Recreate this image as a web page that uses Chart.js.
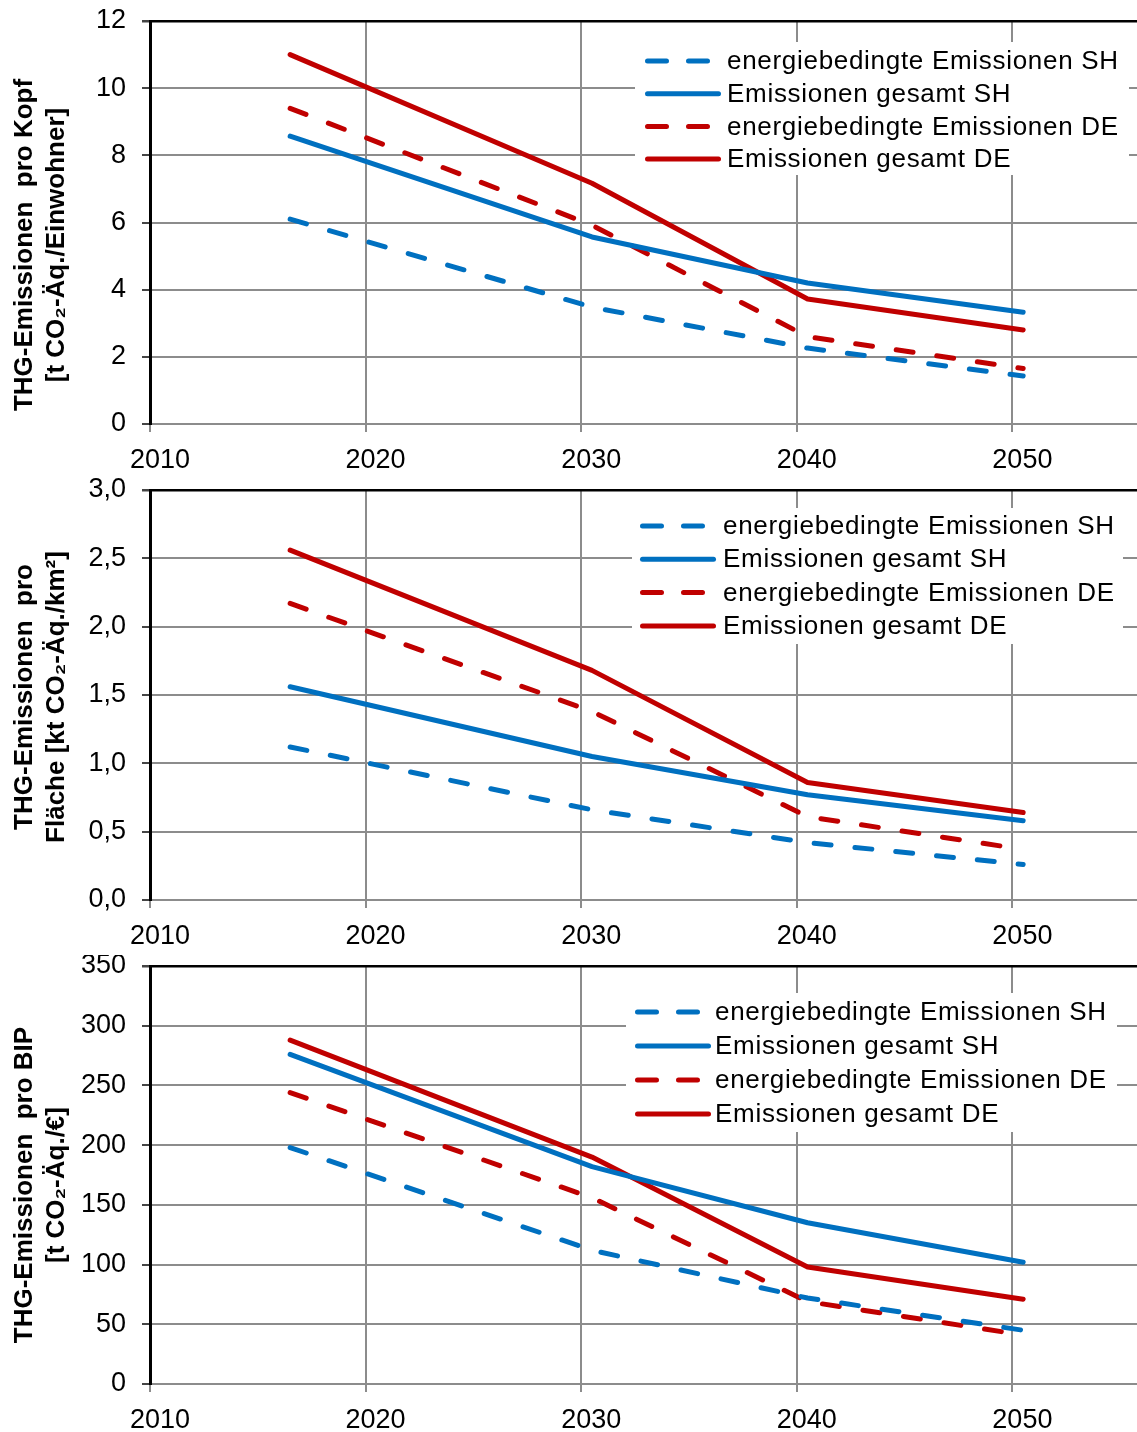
<!DOCTYPE html>
<html>
<head>
<meta charset="utf-8">
<script src="https://cdn.jsdelivr.net/npm/chart.js@4.4.1/dist/chart.umd.min.js"></script>
<style>
  html, body { margin: 0; padding: 0; background: #fff; }
  #wrap { position: relative; width: 1137px; height: 1432px; }
  canvas { position: absolute; left: 0; }
</style>
</head>
<body>
<div id="wrap">
  <canvas id="kopf" width="1137" height="478" style="top:0px"></canvas>
  <canvas id="flaeche" width="1137" height="477" style="top:478px"></canvas>
  <canvas id="bip" width="1137" height="477" style="top:955px"></canvas>
</div>
<script>
// x positions of the data points (Excel date axis, mid-year)
const years = [2016.5, 2030.5, 2040.5, 2050.5];
const xTickValues = [2010, 2020, 2030, 2040, 2050];

const seriesLabels = [
  "energiebedingte Emissionen SH",
  "Emissionen gesamt SH",
  "energiebedingte Emissionen DE",
  "Emissionen gesamt DE"
];

// THG-Emissionen pro Kopf [t CO2-Äq./Einwohner]
const kopfEnergieSH = [6.1, 3.48, 2.26, 1.43];
const kopfGesamtSH = [8.57, 5.57, 4.2, 3.33];
const kopfEnergieDE = [9.4, 5.92, 2.6, 1.65];
const kopfGesamtDE = [11.0, 7.17, 3.72, 2.8];

// THG-Emissionen pro Fläche [kt CO2-Äq./km²]
const flaecheEnergieSH = [1.12, 0.66, 0.42, 0.26];
const flaecheGesamtSH = [1.56, 1.05, 0.77, 0.58];
const flaecheEnergieDE = [2.17, 1.38, 0.61, 0.37];
const flaecheGesamtDE = [2.56, 1.68, 0.86, 0.64];

// THG-Emissionen pro BIP [t CO2-Äq./€]
const bipEnergieSH = [198, 112, 72, 45];
const bipGesamtSH = [276, 182, 135, 102];
const bipEnergieDE = [244, 156, 69, 41];
const bipGesamtDE = [288, 190, 98, 71];

const BLUE = "#0070C0";
const RED = "#C00000";
const GRID = "#8c8c8c";
const FONT = '"Liberation Sans", Arial, sans-serif';

function points(vals) {
  return vals.map((v, i) => ({ x: years[i], y: v }));
}

function makeDatasets(series) {
  const colors = [BLUE, BLUE, RED, RED];
  return series.map((vals, i) => ({
    label: seriesLabels[i],
    data: points(vals),
    borderColor: colors[i],
    backgroundColor: colors[i],
    borderWidth: 5,
    borderDash: i % 2 === 0 ? [17, 24] : [],
    borderCapStyle: "round",
    borderJoinStyle: "round",
    pointRadius: 0,
    tension: 0
  }));
}

// legend drawn inside the plot area on a white box
function boxLegend(L) {
  return {
    id: "boxLegend",
    afterDatasetsDraw(chart) {
      const ctx = chart.ctx;
      ctx.save();
      ctx.fillStyle = "#fff";
      ctx.fillRect(L.x, L.y, L.w, L.h);
      chart.data.datasets.forEach((ds, i) => {
        const y = L.rowY + i * L.rowGap;
        ctx.beginPath();
        ctx.strokeStyle = ds.borderColor;
        ctx.lineWidth = 5;
        ctx.lineCap = "round";
        ctx.setLineDash(ds.borderDash.length ? [19, 22] : []);
        ctx.moveTo(L.sampleX + 2.5, y);
        ctx.lineTo(L.sampleX + (ds.borderDash.length ? 66.5 : 73.5), y);
        ctx.stroke();
        ctx.setLineDash([]);
        ctx.fillStyle = "#000";
        ctx.font = "26px " + FONT;
        ctx.textBaseline = "middle";
        ctx.textAlign = "left";
        ctx.letterSpacing = "0.7px";
        ctx.fillText(ds.label, L.textX, y + 1);
      });
      ctx.restore();
    }
  };
}

// two-line rotated y axis title
function yTitle(lines, cy) {
  return {
    id: "yTitle",
    afterDraw(chart) {
      const ctx = chart.ctx;
      ctx.save();
      ctx.fillStyle = "#000";
      ctx.font = "bold 26px " + FONT;
      ctx.textAlign = "center";
      ctx.textBaseline = "alphabetic";
      lines.forEach((t, i) => {
        ctx.save();
        ctx.translate(31.5 + i * 32, cy);
        ctx.rotate(-Math.PI / 2);
        ctx.fillText(t, 0, 0);
        ctx.restore();
      });
      ctx.restore();
    }
  };
}

function makePanel(id, series, p) {
  new Chart(document.getElementById(id), {
    type: "line",
    data: { datasets: makeDatasets(series) },
    options: {
      responsive: false,
      animation: false,
      devicePixelRatio: 1,
      layout: { padding: { top: p.padTop, left: 0, right: 0, bottom: 0 } },
      plugins: { legend: { display: false }, tooltip: { enabled: false } },
      scales: {
        x: {
          type: "linear",
          min: 2010,
          max: 2055.78,
          afterBuildTicks: s => { s.ticks = xTickValues.map(v => ({ value: v })); },
          afterFit: s => { s.height = p.xHeight; s.paddingLeft = 0; s.paddingRight = 0; },
          grid: { color: GRID, lineWidth: 2, tickLength: 8, tickColor: GRID },
          border: { color: GRID, width: 2 },
          ticks: {
            color: "#000",
            font: { family: FONT, size: 27 },
            padding: 12,
            labelOffset: 10,
            maxRotation: 0,
            autoSkip: false,
            callback: v => String(v)
          }
        },
        y: {
          min: 0,
          max: p.yMax,
          afterFit: s => { s.width = 150; s.paddingTop = 0; s.paddingBottom = 0; },
          grid: {
            color: c => (c.tick && c.tick.value === p.yMax ? "#000" : GRID),
            lineWidth: c => (c.tick && c.tick.value === p.yMax ? 2.5 : 2),
            tickLength: 8,
            tickColor: "#444"
          },
          border: { color: "#000", width: 3 },
          ticks: {
            stepSize: p.yStep,
            color: "#000",
            font: { family: FONT, size: 27 },
            padding: 16,
            callback: p.fmt
          }
        }
      }
    },
    plugins: [boxLegend(p.legend), yTitle(p.title, p.titleY)]
  });
}

makePanel("kopf", [kopfEnergieSH, kopfGesamtSH, kopfEnergieDE, kopfGesamtDE], {
  padTop: 21, xHeight: 54, yMax: 12, yStep: 2,
  fmt: v => String(v),
  title: ["THG-Emissionen  pro Kopf", "[t CO\u2082-Äq./Einwohner]"],
  titleY: 245,
  legend: { x: 635, y: 42, w: 494, h: 133, sampleX: 645, textX: 727, rowY: 61, rowGap: 32.7 }
});

makePanel("flaeche", [flaecheEnergieSH, flaecheGesamtSH, flaecheEnergieDE, flaecheGesamtDE], {
  padTop: 12, xHeight: 55, yMax: 3, yStep: 0.5,
  fmt: v => v.toFixed(1).replace(".", ","),
  title: ["THG-Emissionen  pro", "Fläche [kt CO\u2082-Äq./km²]"],
  titleY: 219,
  legend: { x: 632, y: 30, w: 491, h: 136, sampleX: 640, textX: 723, rowY: 48, rowGap: 33.3 }
});

makePanel("bip", [bipEnergieSH, bipGesamtSH, bipEnergieDE, bipGesamtDE], {
  padTop: 11, xHeight: 48, yMax: 350, yStep: 50,
  fmt: v => String(v),
  title: ["THG-Emissionen  pro BIP", "[t CO\u2082-Äq./€]"],
  titleY: 230,
  legend: { x: 626, y: 38, w: 491, h: 139, sampleX: 635, textX: 715, rowY: 57, rowGap: 34 }
});
</script>
</body>
</html>
